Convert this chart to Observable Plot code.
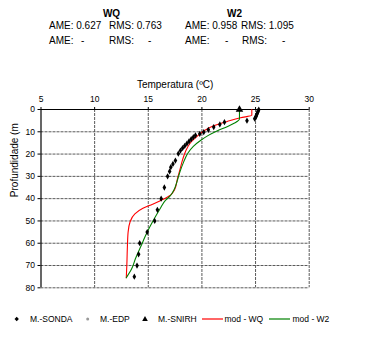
<!DOCTYPE html>
<html>
<head>
<meta charset="utf-8">
<script src="https://cdn.jsdelivr.net/npm/d3@7"></script>
<script src="https://cdn.jsdelivr.net/npm/@observablehq/plot@0.6"></script>
<style>
  body { margin: 0; background: #fff; font-family: "Liberation Sans", Arial, sans-serif; }
  #wrap { width: 372px; height: 339px; position: relative; overflow: hidden; }
  #head { position: relative; height: 60px; font-size: 10px; color: #000; }
  #head span { position: absolute; line-height: 12px; white-space: pre; }
  #chart svg { display: block; }
  #legend { position: relative; height: 34px; font-size: 8.5px; }
  #legend span { position: absolute; top: 8px; line-height: 12px; white-space: pre; }
  #legend svg { position: absolute; left: 0; top: 0; }
</style>
</head>
<body>
<div id="wrap">
  <div id="head"></div>
  <div id="chart"></div>
  <div id="legend"></div>
</div>
<script>
// ---- data ----
const tempTicks = [5, 10, 15, 20, 25, 30];
const depthTicks = [0, 10, 20, 30, 40, 50, 60, 70, 80];
const gridTempTicks = [10, 15, 20, 25, 30];
const gridDepthTicks = [10, 20, 30, 40, 50, 60, 70, 80];

const headerWQ = ["WQ", "AME: 0.627", "RMS: 0.763", "AME:", "-", "RMS:", "-"];
const headerW2 = ["W2", "AME: 0.958", "RMS: 1.095", "AME:", "-", "RMS:", "-"];
const xLabel = "Temperatura (ºC)";
const yLabel = "Profundidade (m";
const legendLabels = ["M.-SONDA", "M.-EDP", "M.-SNIRH", "mod - WQ", "mod - W2"];

// M.-SONDA observations
const sondaTemp  = [25.3, 25.25, 25.2, 25.15, 25.1, 25.05, 25.0, 24.92, 24.2, 22.1, 21.67, 21.1, 20.6, 20.17, 19.8,
                    19.4, 19.2, 19.0, 18.8, 18.6, 18.4, 18.2, 18.0, 17.8, 17.53, 17.3, 17.1, 16.99, 16.8,
                    16.5, 16.2, 15.85, 15.6, 14.9, 14.2, 14.1, 13.95, 13.7];
const sondaDepth = [0.1, 0.6, 1.2, 1.8, 2.4, 3.0, 3.6, 4.1, 5.0, 5.7, 6.7, 7.9, 9.1, 10.2, 10.9,
                    11.6, 12.4, 13.3, 14.3, 15.3, 16.3, 17.3, 18.4, 19.8, 22.9, 24.4, 25.9, 27.8, 30.0,
                    35.0, 40.0, 45.0, 50.0, 55.0, 60.0, 65.0, 70.0, 75.0];
// M.-SNIRH observation
const snirhTemp = [23.5];
const snirhDepth = [0];
// M.-EDP observations (none visible)
const edpTemp = [];
const edpDepth = [];

// model WQ
const wqTemp  = [24.65, 24.65, 23.6, 22.4, 21.1, 20.2, 19.6, 18.95, 18.5, 18.2, 17.95, 17.7, 17.45, 17.1, 16.4,
                 15.4, 14.5, 13.75, 13.3, 13.12, 13.05, 13.0, 12.95];
const wqDepth = [0, 2.6, 3.7, 5.3, 7.3, 9.5, 11.8, 14.8, 18.5, 22.5, 27, 31.5, 36, 38.3, 40.3,
                 42.5, 44.3, 46.8, 50.5, 55, 62, 70, 75.5];
// model W2
const w2Temp  = [23.5, 23.5, 23.0, 22.3, 21.4, 20.6, 19.9, 19.2, 18.7, 18.3, 17.95, 17.7, 17.4, 17.0, 16.6,
                 16.1, 15.5, 14.9, 14.3, 13.8, 13.45, 12.95];
const w2Depth = [0, 4.3, 6.2, 7.8, 9.6, 11.6, 13.8, 16.5, 19.5, 23.5, 28, 32, 36, 39, 40.8,
                 44.5, 49.5, 55, 61.5, 67, 71.5, 75.5];

// ---- tables ----
const sonda = sondaTemp.map((t, i) => ({temp: t, depth: sondaDepth[i]}));
const snirh = snirhTemp.map((t, i) => ({temp: t, depth: snirhDepth[i]}));
const edp = edpTemp.map((t, i) => ({temp: t, depth: edpDepth[i]}));
const wq = wqTemp.map((t, i) => ({temp: t, depth: wqDepth[i]}));
const w2 = w2Temp.map((t, i) => ({temp: t, depth: w2Depth[i]}));

const FONT = '"Liberation Sans", Arial, sans-serif';
const RED = "#ff0000", GREEN = "#008000";

// ---- header ----
const head = document.getElementById("head");
function addSpan(parent, text, left, top, extra) {
  const s = document.createElement("span");
  s.textContent = text;
  s.style.left = left + "px";
  s.style.top = top + "px";
  if (extra) Object.assign(s.style, extra);
  parent.appendChild(s);
  return s;
}
addSpan(head, headerWQ[0], 111.5, 8, {fontWeight: "bold", transform: "translateX(-50%)"});
addSpan(head, headerW2[0], 234.5, 8, {fontWeight: "bold", transform: "translateX(-50%)"});
addSpan(head, headerWQ[1], 49, 20);
addSpan(head, headerWQ[2], 109, 20);
addSpan(head, headerW2[1], 185, 20);
addSpan(head, headerW2[2], 241, 20);
addSpan(head, headerWQ[3], 49, 35);
addSpan(head, headerWQ[4], 81, 35);
addSpan(head, headerWQ[5], 109, 35);
addSpan(head, headerWQ[6], 148, 35);
addSpan(head, headerW2[3], 185, 35);
addSpan(head, headerW2[4], 225, 35);
addSpan(head, headerW2[5], 242, 35);
addSpan(head, headerW2[6], 282, 35);

// ---- chart ----
const gridStyle = {stroke: "#5a5a5a", strokeWidth: 1, strokeDasharray: "3,1"};
const chart = Plot.plot({
  width: 372,
  height: 245,
  marginTop: 49,
  marginBottom: 17.7,
  marginLeft: 40.5,
  marginRight: 63.3,
  style: {fontSize: "8.5px", fontFamily: FONT, background: "white", color: "black"},
  x: {domain: [5, 30], axis: "top", ticks: tempTicks, tickSize: 3, tickPadding: 5, label: null},
  y: {domain: [0, 80], reverse: true, ticks: depthTicks, tickSize: 3, tickPadding: 3, label: null},
  marks: [
    Plot.ruleX(gridTempTicks, gridStyle),
    Plot.ruleY(gridDepthTicks, gridStyle),
    Plot.ruleY([0], {stroke: "black", strokeWidth: 1.2}),
    Plot.ruleX([5], {stroke: "black", strokeWidth: 1.2}),
    Plot.line(wq, {x: "temp", y: "depth", stroke: RED, strokeWidth: 1.1, curve: "monotone-y"}),
    Plot.line(w2, {x: "temp", y: "depth", stroke: GREEN, strokeWidth: 1.1, curve: "monotone-y"}),
    Plot.dot(edp, {x: "temp", y: "depth", fill: "#999", r: 1.5}),
    Plot.dot(sonda, {x: "temp", y: "depth", symbol: "diamond", fill: "black", r: 1.9}),
    Plot.dot(snirh, {x: "temp", y: "depth", symbol: "triangle", fill: "black", r: 2.8}),
    Plot.text([xLabel], {text: d => d, frameAnchor: "top", dy: -29, fontSize: 10, fill: "black"}),
    Plot.text([yLabel], {text: d => d, frameAnchor: "left", dx: -26.5, dy: -1.5, rotate: -90, fontSize: 10, fill: "black"})
  ]
});
document.getElementById("chart").appendChild(chart);

// ---- legend ----
const legend = document.getElementById("legend");
legend.innerHTML =
  '<svg width="372" height="34">' +
  '<path d="M16.7,11.8 L18.9,14 L16.7,16.2 L14.5,14 Z" fill="black"/>' +
  '<circle cx="87.7" cy="14" r="1.5" fill="#999"/>' +
  '<path d="M145,11 L147.8,16 L142.2,16 Z" fill="black"/>' +
  '<line x1="202" y1="14" x2="223" y2="14" stroke="' + RED + '" stroke-width="1.2"/>' +
  '<line x1="269" y1="14" x2="290" y2="14" stroke="' + GREEN + '" stroke-width="1.2"/>' +
  '</svg>';
addSpan(legend, legendLabels[0], 30, 8);
addSpan(legend, legendLabels[1], 100, 8);
addSpan(legend, legendLabels[2], 158, 8);
addSpan(legend, legendLabels[3], 224.5, 8);
addSpan(legend, legendLabels[4], 292.5, 8);
</script>
</body>
</html>
